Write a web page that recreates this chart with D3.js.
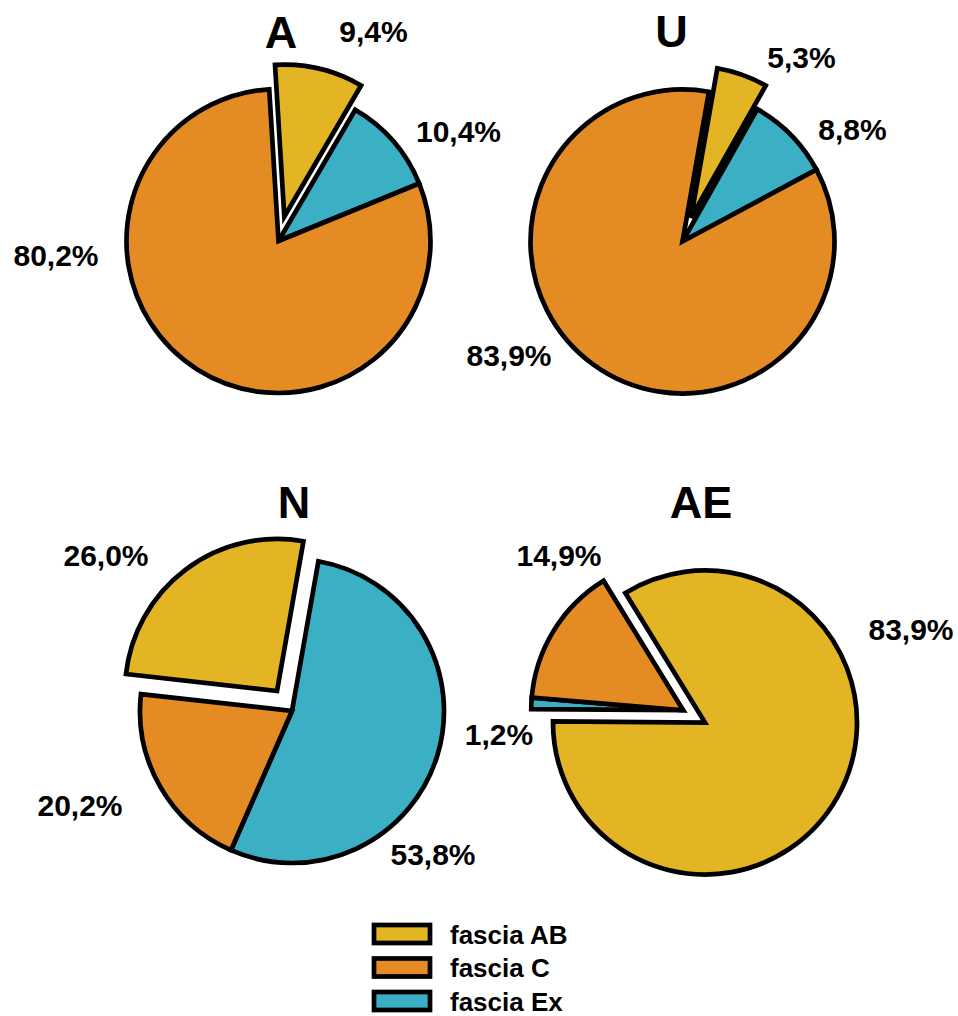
<!DOCTYPE html>
<html>
<head>
<meta charset="utf-8">
<script src="https://cdn.jsdelivr.net/npm/d3@7"></script>
<style>
body { margin: 0; background: #fff; }
text { font-family: "Liberation Sans", Arial, sans-serif; font-weight: bold; fill: #000; }
</style>
</head>
<body>
<script>
// data
const panels = ["A", "U", "N", "AE"];
const sliceOrder = ["fascia AB", "fascia Ex", "fascia C"];
const legendOrder = ["fascia AB", "fascia C", "fascia Ex"];
const valuesAB = [9.4, 5.3, 26.0, 83.9];
const valuesEx = [10.4, 8.8, 53.8, 1.2];
const valuesC = [80.2, 83.9, 20.2, 14.9];
const exploded = [["fascia AB"], ["fascia AB"], ["fascia AB"], ["fascia C", "fascia Ex"]];

const colors = {"fascia AB": "#E3B524", "fascia C": "#E48C23", "fascia Ex": "#3BAFC4"};

// layout of each panel: centre, first slice angle (deg), title / label offsets from centre
const layout = [
    {cx: 278.5, cy: 241, start: -3.5, title: [2.5, -193],
     labels: {"fascia AB": [95, -199], "fascia Ex": [180, -99], "fascia C": [-222.5, 25]}},
    {cx: 682.5, cy: 241.5, start: 10, title: [-11, -194.5],
     labels: {"fascia AB": [119, -173.5], "fascia Ex": [170, -101.5], "fascia C": [-173.5, 124.5]}},
    {cx: 292, cy: 711, start: -83.6, title: [2, -193],
     labels: {"fascia AB": [-186, -145], "fascia Ex": [141, 154], "fascia C": [-212, 105]}},
    {cx: 705, cy: 722.5, start: -31.6, title: [-4, -204.5],
     labels: {"fascia AB": [206, -82.5], "fascia Ex": [-206, 22.5], "fascia C": [-146, -156.5]}}
];

const r = 152;
const explodeDist = 25;
const stroke = 4.7;

const W = 958, H = 1016;
const svg = d3.select("body")
    .append("svg")
    .attr("width", W)
    .attr("height", H);

const locale = d3.formatLocale({decimal: ",", thousands: ".", grouping: [3], currency: ["", "€"]});
const fmt = locale.format(".1f");

const arc = d3.arc().innerRadius(0).outerRadius(r);

panels.forEach((name, i) => {
    const L = layout[i];
    const vals = {"fascia AB": valuesAB[i], "fascia Ex": valuesEx[i], "fascia C": valuesC[i]};
    const data = sliceOrder.map(k => ({key: k, value: vals[k]}));

    const s = L.start * Math.PI / 180;
    const pie = d3.pie()
        .sort(null)
        .value(d => d.value)
        .startAngle(s)
        .endAngle(s + 2 * Math.PI);
    const arcs = pie(data);

    // exploded slices move together along the bisector of their group
    const ex = arcs.filter(a => exploded[i].includes(a.data.key));
    const a0 = d3.min(ex, a => a.startAngle);
    const a1 = d3.max(ex, a => a.endAngle);
    const mid = (a0 + a1) / 2;
    const off = [explodeDist * Math.sin(mid), -explodeDist * Math.cos(mid)];

    const g = svg.append("g")
        .attr("transform", `translate(${L.cx}, ${L.cy})`);

    g.selectAll("path")
        .data(arcs)
        .enter()
        .append("path")
        .attr("d", arc)
        .attr("transform", d => exploded[i].includes(d.data.key) ? `translate(${off[0]}, ${off[1]})` : null)
        .attr("fill", d => colors[d.data.key])
        .attr("stroke", "#000")
        .attr("stroke-width", stroke)
        .attr("stroke-linejoin", "miter");

    g.append("text")
        .attr("x", L.title[0])
        .attr("y", L.title[1])
        .attr("text-anchor", "middle")
        .attr("font-size", 45)
        .text(name);

    g.selectAll("text.lab")
        .data(arcs)
        .enter()
        .append("text")
        .attr("class", "lab")
        .attr("x", d => L.labels[d.data.key][0])
        .attr("y", d => L.labels[d.data.key][1])
        .attr("text-anchor", "middle")
        .attr("font-size", 30)
        .text(d => fmt(d.data.value) + "%");
});

// legend
const ly = d3.scalePoint().domain(legendOrder).range([934, 1001]);
const leg = svg.append("g");
leg.selectAll("rect")
    .data(legendOrder)
    .enter()
    .append("rect")
    .attr("x", 374)
    .attr("y", d => ly(d) - 9)
    .attr("width", 56)
    .attr("height", 18)
    .attr("fill", d => colors[d])
    .attr("stroke", "#000")
    .attr("stroke-width", stroke);
leg.selectAll("text")
    .data(legendOrder)
    .enter()
    .append("text")
    .attr("x", 450)
    .attr("y", d => ly(d) + 9.5)
    .attr("font-size", 26)
    .text(d => d);
</script>
</body>
</html>
